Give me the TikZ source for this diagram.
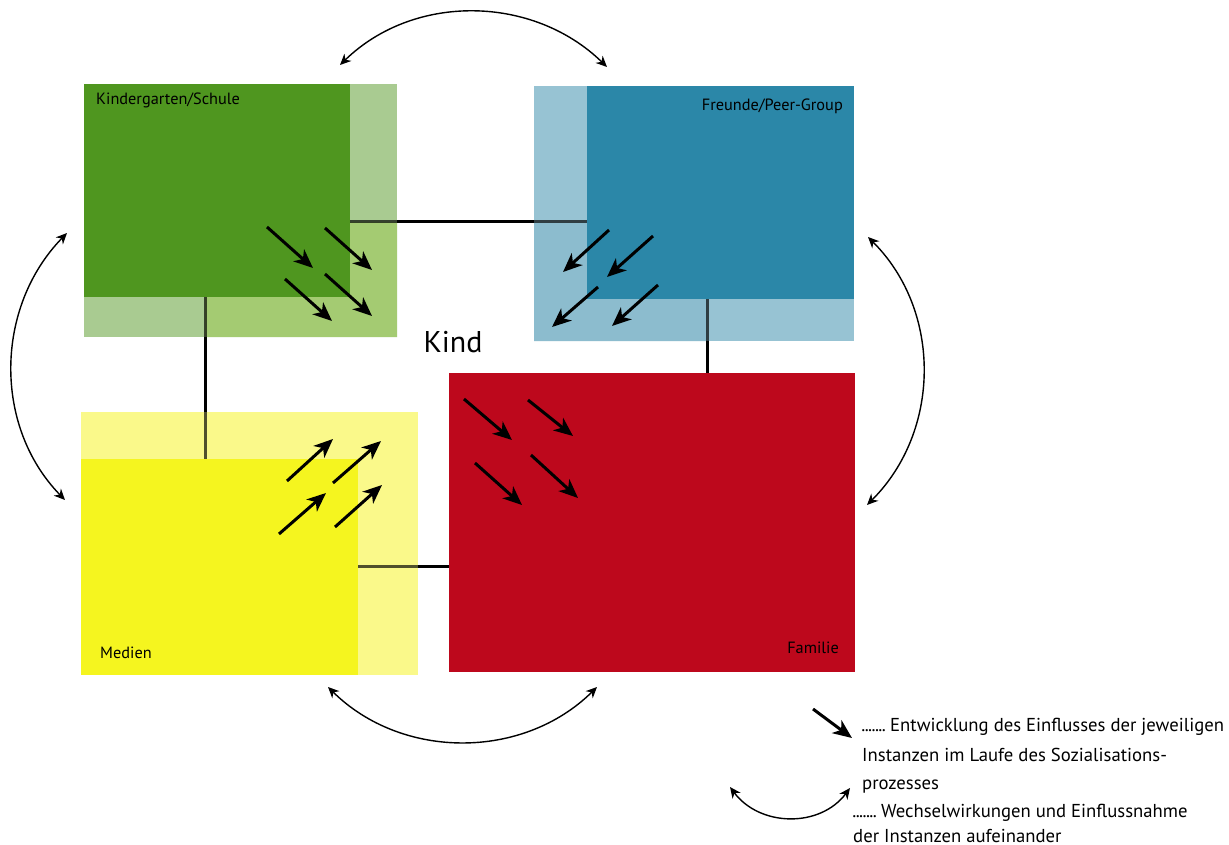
\documentclass[tikz,border=0pt]{standalone}
\usepackage{fontspec}
\setmainfont{PT Sans}
\usetikzlibrary{arrows.meta}
\definecolor{gdark}{HTML}{4F961F}
\definecolor{glight}{HTML}{A9CB91}
\definecolor{glime}{HTML}{A4CB72}
\definecolor{bdark}{HTML}{2B87A8}
\definecolor{blight}{HTML}{97C3D3}
\definecolor{bmid}{HTML}{8CBCCE}
\definecolor{ydark}{HTML}{F5F51F}
\definecolor{ylight}{HTML}{FAF98A}
\definecolor{rdark}{HTML}{BD081C}
\newcommand\legdots{.\kern-0.6pt.\kern-0.6pt.\kern-0.6pt.\kern-0.6pt.\kern-0.6pt.\kern-0.6pt.}
\tikzset{
  box/.style={anchor=north west, inner sep=0pt, outer sep=0pt, draw=none},
  link/.style={line width=3pt},
  linkin/.style={line width=3pt, draw opacity=0.68},
  devarrow/.style={line width=3pt, -{Stealth[length=19pt,width=16pt,inset=5.5pt]}},
  wechsel/.style={line width=1.4pt, {Stealth[length=11pt,width=10pt,inset=3.5pt]}-{Stealth[length=11pt,width=10pt,inset=3.5pt]}},
  lab/.style={font=\fontsize{16.3}{19}\selectfont, inner sep=0pt},
  leg/.style={font=\fontsize{18.7}{23}\selectfont, inner sep=0pt, anchor=base west},
  legd/.style={font=\fontsize{18.7}{23}\selectfont, inner sep=0pt, anchor=base east}
}
\begin{document}
\begin{tikzpicture}[x=1pt,y=-1pt]
\useasboundingbox[fill=white] (0,0) rectangle (1229,845);

% Kindergarten/Schule
\node[box, fill=glight, minimum width=313pt, minimum height=253pt] (kgOuter) at (84,84) {};
\fill[glime] (350,222) -- (397,222) -- (397,337) -- (205,337) -- (205,297) -- (350,297) -- cycle;
\node[box, fill=gdark, minimum width=266pt, minimum height=213pt] (kg) at (84,84) {};
\node[lab, anchor=west] (kgLab) at (96,100) {Kindergarten/Schule};

% Freunde/Peer-Group
\node[box, fill=blight, minimum width=320pt, minimum height=255pt] (frOuter) at (534,86) {};
\fill[bmid] (534,223) -- (587,223) -- (587,299) -- (707,299) -- (707,341) -- (534,341) -- cycle;
\node[box, fill=bdark, minimum width=267pt, minimum height=213pt] (fr) at (587,86) {};
\node[lab, anchor=east] (frLab) at (843,106) {Freunde/Peer-Group};

% Medien
\node[box, fill=ylight, minimum width=337pt, minimum height=263pt] (meOuter) at (81,412) {};
\node[box, fill=ydark, minimum width=277pt, minimum height=216pt] (me) at (81,459) {};
\node[lab, anchor=west] (meLab) at (100,653) {Medien};

% Familie
\node[box, fill=rdark, minimum width=406pt, minimum height=299pt] (fa) at (449,373) {};
\node[lab, anchor=east] (faLab) at (839,648) {Familie};

% Kind
\node[font=\fontsize{30}{34}\selectfont, inner sep=0pt] (kind) at (453,342) {Kind};

% connection coordinates
\coordinate (h1a) at (350,222); \coordinate (h1b) at (397,222);
\coordinate (h1c) at (534,222); \coordinate (h1d) at (587,222);
\coordinate (v1a) at (205,297); \coordinate (v1b) at (205,337);
\coordinate (v1c) at (205,412); \coordinate (v1d) at (205,459);
\coordinate (v2a) at (707,299); \coordinate (v2b) at (707,341);
\coordinate (v2c) at (fa.north -| v2a);
\coordinate (h2a) at (358,566); \coordinate (h2b) at (418,566);
\coordinate (h2c) at (fa.west |- h2a);

\draw[linkin] (h1a) -- (h1b);
\draw[link] (h1b) -- (h1c);
\draw[linkin] (h1c) -- (h1d);
\draw[linkin] (v1a) -- (v1b);
\draw[link] (v1b) -- (v1c);
\draw[linkin] (v1c) -- (v1d);
\draw[linkin] (v2a) -- (v2b);
\draw[link] (v2b) -- (v2c);
\draw[linkin] (h2a) -- (h2b);
\draw[link] (h2b) -- (h2c);

% development arrows: green
\draw[devarrow] (267,227) -- (313,268);
\draw[devarrow] (325,228) -- (372,270);
\draw[devarrow] (285,279) -- (332,321);
\draw[devarrow] (325,274) -- (372,316);
% blue
\draw[devarrow] (609,230) -- (563,272);
\draw[devarrow] (653,236) -- (607,277);
\draw[devarrow] (598,287) -- (552,327);
\draw[devarrow] (658,285) -- (612,326);
% yellow
\draw[devarrow] (287,481) -- (333,439);
\draw[devarrow] (333,483) -- (381,441);
\draw[devarrow] (279,534) -- (326,493);
\draw[devarrow] (335,527) -- (382,485);
% red
\draw[devarrow] (464,399) -- (512,440);
\draw[devarrow] (528,400) -- (573,436);
\draw[devarrow] (475,463) -- (522,505);
\draw[devarrow] (531,455) -- (578,498);

% interaction arcs
\coordinate (tA) at (340,65); \coordinate (tB) at (607,67);
\draw[wechsel] (tA) .. controls (414,-7) and (533,-5) .. (tB);
\coordinate (lA) at (67,233); \coordinate (lB) at (65,500);
\draw[wechsel] (lA) .. controls (-5,307) and (-7,426) .. (lB);
\coordinate (rA) at (868,237); \coordinate (rB) at (867,505);
\draw[wechsel] (rA) .. controls (942,311) and (941,431) .. (rB);
\coordinate (bA) at (328,687); \coordinate (bB) at (597,687);
\draw[wechsel] (bA) .. controls (402,760) and (523,760) .. (bB);

% legend
\coordinate (legA1) at (813,709); \coordinate (legA2) at (852,738);
\draw[devarrow] (legA1) -- (legA2);
\coordinate (legB1) at (730,787); \coordinate (legB2) at (850,788);
\draw[wechsel] (legB1) .. controls (760,827) and (820,828) .. (legB2);

\node[legd] (l1d) at (886,731) {\legdots};
\node[leg] (l1) at (890,731) {Entwicklung des Einflusses der jeweiligen};
\node[leg] (l2) at (862,761) {Instanzen im Laufe des Sozialisations-};
\node[leg] (l3) at (862,789) {prozesses};
\node[legd] (l4d) at (877,817) {\legdots};
\node[leg] (l4) at (881,817) {Wechselwirkungen und Einflussnahme};
\node[leg] (l5) at (853,842) {der Instanzen aufeinander};
\end{tikzpicture}
\end{document}
